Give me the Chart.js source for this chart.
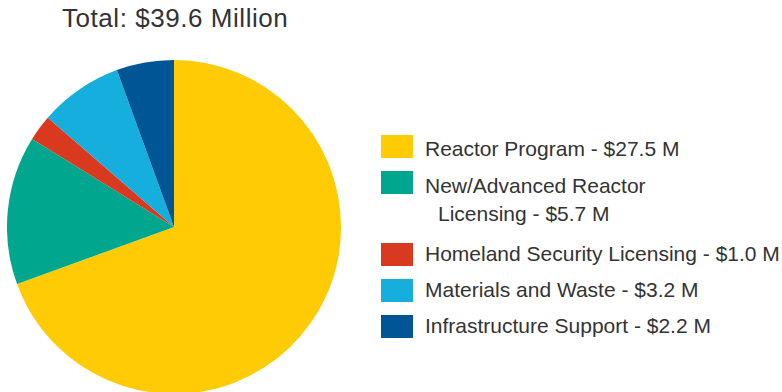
<!DOCTYPE html>
<html>
<head>
<meta charset="utf-8">
<script src="https://cdn.jsdelivr.net/npm/chart.js@4"></script>
<style>
  html, body { margin: 0; padding: 0; width: 782px; height: 392px; overflow: hidden; background: #fff; }
  body { position: relative; font-family: "Liberation Sans", Arial, sans-serif; color: #333; }
  #title { position: absolute; left: 62px; top: 5px; font-size: 26px; line-height: 26px; letter-spacing: 0.55px; white-space: nowrap; }
  #pieWrap { position: absolute; left: 7px; top: 60px; width: 334px; height: 334px; }
  .box { position: absolute; left: 381px; width: 32px; height: 23px; }
  .txt { position: absolute; left: 425px; font-size: 21px; line-height: 21px; white-space: nowrap; }
</style>
</head>
<body>
<div id="title">Total: $39.6 Million</div>
<div id="pieWrap"><canvas id="budgetPie" width="334" height="334"></canvas></div>
<div id="legend"></div>
<script>
// categories (second line of a label after the |)
const categories = ['Reactor Program', 'New/Advanced Reactor|Licensing', 'Homeland Security Licensing', 'Materials and Waste', 'Infrastructure Support'];
const amounts = [27.5, 5.7, 1.0, 3.2, 2.2]; // $ millions
const colors = ['#fecb05', '#00a68e', '#d8391f', '#15aedd', '#005595'];

// legend layout (px)
const boxTops = [135, 171, 243, 279, 315];
const textTops = [138, 174.5, 242.5, 279, 315];
const secondLineGap = 28.4;
const secondLineIndent = 13;

const ctx = document.getElementById('budgetPie').getContext('2d');
new Chart(ctx, {
  type: 'pie',
  data: {
    labels: categories.map(c => c.replace('|', ' ')),
    datasets: [{
      data: amounts,
      backgroundColor: colors,
      borderWidth: 0
    }]
  },
  options: {
    responsive: false,
    animation: false,
    plugins: {
      legend: { display: false },
      tooltip: { enabled: false }
    }
  }
});

// legend
const legend = document.getElementById('legend');
function addText(str, top, dx) {
  const t = document.createElement('div');
  t.className = 'txt';
  t.style.top = top + 'px';
  if (dx) t.style.left = (425 + dx) + 'px';
  t.textContent = str;
  legend.appendChild(t);
}
categories.forEach((c, i) => {
  const parts = c.split('|');
  const amt = ' - $' + amounts[i].toFixed(1) + ' M';
  const box = document.createElement('div');
  box.className = 'box';
  box.style.top = boxTops[i] + 'px';
  box.style.background = colors[i];
  legend.appendChild(box);
  if (parts.length > 1) {
    addText(parts[0], textTops[i]);
    addText(parts[1] + amt, textTops[i] + secondLineGap, secondLineIndent);
  } else {
    addText(parts[0] + amt, textTops[i]);
  }
});
</script>
</body>
</html>
